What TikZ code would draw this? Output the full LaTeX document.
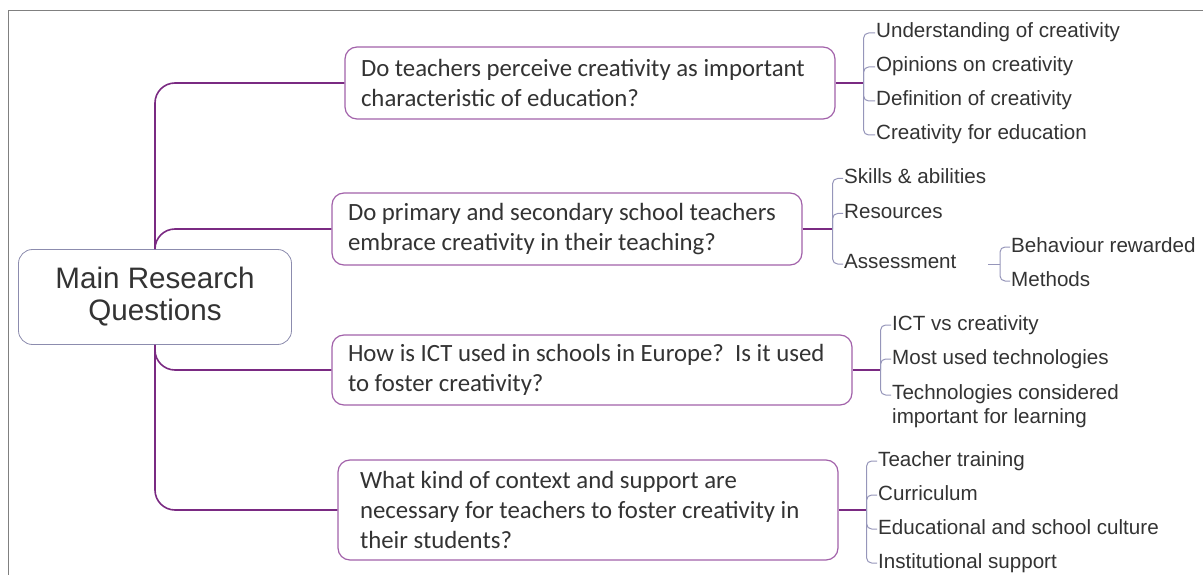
\documentclass[tikz,border=0pt]{standalone}
\usepackage{fontspec}
\newfontfamily\qfont{Carlito}
\newfontfamily\lfont{Liberation Sans}
\usetikzlibrary{positioning}
\definecolor{linkpurple}{HTML}{7A2A82}
\definecolor{boxpurple}{HTML}{A262AA}
\definecolor{mainedge}{HTML}{8C8CAE}
\definecolor{bracegray}{HTML}{9696BA}
\definecolor{textgray}{HTML}{333333}
\tikzset{
  mainbox/.style={draw=mainedge, line width=0.8pt, rounded corners=14pt, fill=white,
    align=center, text=textgray, font=\lfont\fontsize{29.6}{32}\selectfont,
    minimum width=273pt, minimum height=95pt},
  qbox/.style={draw=boxpurple, line width=1.2pt, rounded corners=12pt, fill=white,
    align=flush left, text=textgray, font=\qfont\fontsize{24.8}{30}\selectfont},
  topic/.style={anchor=west, inner sep=1pt, text=textgray,
    font=\lfont\fontsize{20.6}{24}\selectfont, text height=14pt, text depth=4pt},
  link/.style={draw=linkpurple, line width=1.6pt, rounded corners=20pt},
  brace/.style={draw=bracegray, line width=1pt, rounded corners=5pt},
}
\begin{document}
\begin{tikzpicture}[x=1pt,y=-1pt]
  \useasboundingbox (0,0) rectangle (1203,575);
  % Rahmen
  \draw[gray, line width=1pt] (8,575) -- (8,11) -- (1203,11);

  % Hauptknoten und Fragen
  \node[mainbox] (main) at (155,297) {Main Research\\Questions};
  \node[qbox, minimum width=490pt, minimum height=72pt, text width=458pt, inner xsep=16pt] (q1) at (590,83)
    {Do teachers perceive creativity as important\\characteristic of education?};
  \node[qbox, minimum width=470pt, minimum height=72pt, text width=438pt, inner xsep=16pt] (q2) at (567,229)
    {Do primary and secondary school teachers\\embrace creativity in their teaching?};
  \node[qbox, minimum width=520pt, minimum height=70pt, text width=488pt, inner xsep=16pt] (q3) at (592,370)
    {How is ICT used in schools in Europe?\ \ Is it used\\to foster creativity?};
  \node[qbox, minimum width=500pt, minimum height=100pt, text width=456pt, inner xsep=22pt] (q4) at (588,510)
    {What kind of context and support are\\necessary for teachers to foster creativity in\\their students?};

  % Verbindungen vom Hauptknoten
  \draw[link] (main.north) |- (q1.west);
  \draw[link] (main.north) |- (q2.west);
  \draw[link] (main.south) |- (q3.west);
  \draw[link] (main.south) |- (q4.west);

  % Frage 1
  \draw[link] (q1.east) -- ++(28,0) coordinate (j1);
  \node[topic] (s11) at (875,33) {Understanding of creativity};
  \node[topic] (s12) at (875,67) {Opinions on creativity};
  \node[topic] (s13) at (875,101) {Definition of creativity};
  \node[topic] (s14) at (875,135) {Creativity for education};
  \foreach \s in {s11,s12,s13,s14}
    \draw[brace] (j1) |- (\s.west);

  % Frage 2
  \draw[link] (q2.east) -- ++(30,0) coordinate (j2);
  \node[topic] (s21) at (843,178.5) {Skills \& abilities};
  \node[topic] (s22) at (843,213.5) {Resources};
  \node[topic] (s23) at (843,264) {Assessment};
  \foreach \s in {s21,s22,s23}
    \draw[brace] (j2) |- (\s.west);
  \coordinate (a0) at (988,264);
  \coordinate (j5) at (1000,264);
  \draw[brace] (a0) -- (j5);
  \node[topic] (s231) at (1010,247) {Behaviour rewarded};
  \node[topic] (s232) at (1010,281) {Methods};
  \foreach \s in {s231,s232}
    \draw[brace] (j5) |- (\s.west);

  % Frage 3
  \draw[link] (q3.east) -- ++(28,0) coordinate (j3);
  \node[topic] (s31) at (891,325) {ICT vs creativity};
  \node[topic] (s32) at (891,359) {Most used technologies};
  \node[topic, anchor=north west, text height=, text depth=, align=left] (s33) at (891,383)
    {Technologies considered\\important for learning};
  \foreach \s in {s31,s32}
    \draw[brace] (j3) |- (\s.west);
  \draw[brace] (j3) |- ([yshift=-12pt]s33.north west);

  % Frage 4
  \draw[link] (q4.east) -- ++(28,0) coordinate (j4);
  \node[topic] (s41) at (877,461) {Teacher training};
  \node[topic] (s42) at (877,495) {Curriculum};
  \node[topic] (s43) at (877,529) {Educational and school culture};
  \node[topic] (s44) at (877,563) {Institutional support};
  \foreach \s in {s41,s42,s43,s44}
    \draw[brace] (j4) |- (\s.west);
\end{tikzpicture}
\end{document}
